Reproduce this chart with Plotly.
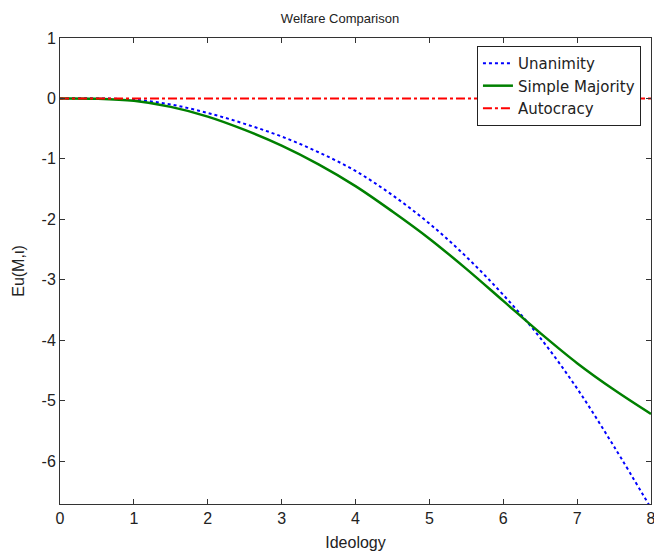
import plotly.graph_objects as go

ideology = [0, 0.5, 1, 1.5, 2, 2.5, 3, 3.5, 4, 4.5, 5, 5.5, 6, 6.5, 7, 7.5, 8]
unanimity = [0, 0, -0.02, -0.1, -0.24, -0.42, -0.63, -0.89, -1.2, -1.6, -2.07, -2.62, -3.25, -3.96, -4.8, -5.76, -6.78]
simple_majority = [0, -0.005, -0.04, -0.14, -0.3, -0.52, -0.78, -1.09, -1.45, -1.87, -2.32, -2.82, -3.35, -3.88, -4.38, -4.82, -5.22]
autocracy = [0] * len(ideology)

x_ticks = [0, 1, 2, 3, 4, 5, 6, 7, 8]
x_ticktext = ["0", "1", "2", "3", "4", "5", "6", "7", "8"]
y_ticks = [1, 0, -1, -2, -3, -4, -5, -6]
y_ticktext = ["1", "0", "-1", "-2", "-3", "-4", "-5", "-6"]

fig = go.Figure()
fig.add_trace(go.Scatter(x=ideology, y=unanimity, mode="lines", name="Unanimity",
                         line=dict(color="#0000ff", width=2, dash="dot", shape="spline", smoothing=1)))
fig.add_trace(go.Scatter(x=ideology, y=simple_majority, mode="lines", name="Simple Majority",
                         line=dict(color="#008000", width=2.5, shape="spline", smoothing=1)))
fig.add_trace(go.Scatter(x=ideology, y=autocracy, mode="lines", name="Autocracy",
                         line=dict(color="#ff0000", width=2, dash="dashdot")))

axis_common = dict(showgrid=False, zeroline=False, showline=True, linecolor="#333333",
                   linewidth=1, mirror="ticks", ticks="inside", ticklen=5,
                   tickcolor="#333333", tickfont=dict(size=16, color="#222222"),
                   automargin=False, ticklabeloverflow="allow")

W, H = 654, 559
fig.update_layout(
    width=W, height=H,
    margin=dict(l=60, r=3, t=38, b=55),
    paper_bgcolor="white", plot_bgcolor="white",
    font=dict(family="Liberation Sans, Arial, sans-serif", color="#222222"),
    title=dict(text="Welfare Comparison", x=340 / W, xanchor="center",
               y=1 - 18 / H, yanchor="middle", font=dict(size=13)),
    xaxis=dict(range=[0, 8], tickvals=x_ticks, ticktext=x_ticktext,
               title=dict(text="Ideology", font=dict(size=16), standoff=10),
               **axis_common),
    yaxis=dict(range=[-6.71, 1], tickvals=y_ticks, ticktext=y_ticktext,
               title=dict(text="Eu(M,ι)", font=dict(size=16), standoff=12),
               **axis_common),
    legend=dict(x=0.983, y=0.983, xanchor="right", yanchor="top", bgcolor="white",
                bordercolor="#222222", borderwidth=1,
                font=dict(size=15, family="DejaVu Sans, sans-serif"),
                tracegroupgap=0, itemwidth=30),
    showlegend=True,
)

fig.write_html("out.html", config={"displayModeBar": False},
               post_script="document.body.style.margin='0px';document.body.style.overflow='hidden';")
